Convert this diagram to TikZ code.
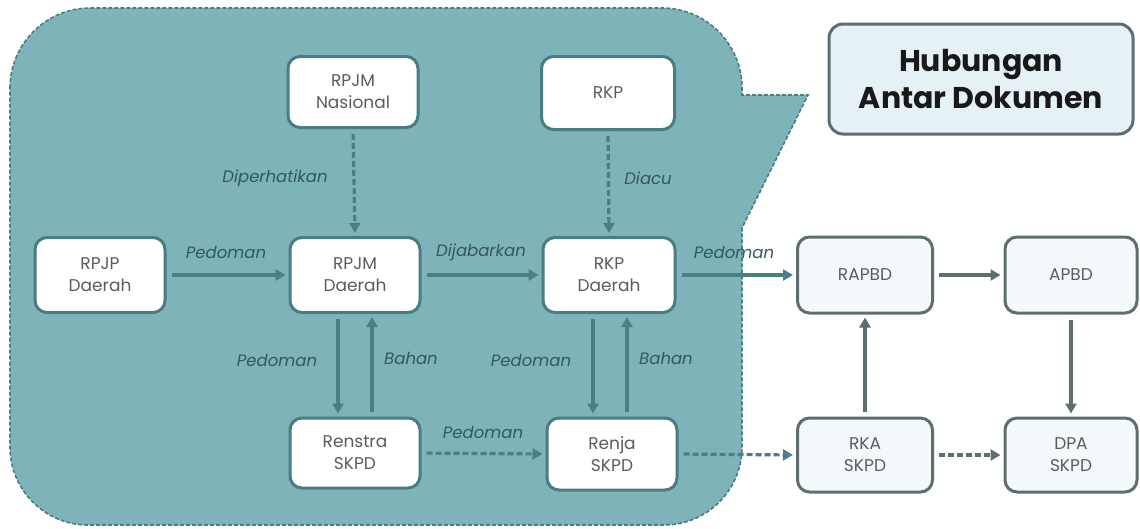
\documentclass[tikz,border=0pt]{standalone}
\usepackage{fontspec}
\setmainfont{Poppins}
\newfontfamily\titlefont{Poppins}
\usetikzlibrary{arrows.meta}
\definecolor{tealfill}{HTML}{7EB3BA}
\definecolor{tealdash}{HTML}{4C7C83}
\definecolor{tealbord}{HTML}{4A7C84}
\definecolor{graybord}{HTML}{5E6D70}
\definecolor{lblcol}{HTML}{33585E}
\definecolor{txtcol}{HTML}{5C5C5C}
\definecolor{outfill}{HTML}{F4FAFC}
\definecolor{titlefill}{HTML}{E6F1F5}
\definecolor{arrin}{HTML}{4B7E86}
\definecolor{arrout}{HTML}{5F6F71}
\tikzset{
  inbox/.style={draw=tealbord, fill=white, line width=3pt, rounded corners=12pt, align=center,
     font=\fontsize{17}{22}\selectfont, text=txtcol, inner sep=0pt},
  outbox/.style={draw=graybord, fill=outfill, line width=3pt, rounded corners=12pt, align=center,
     font=\fontsize{17}{22}\selectfont, text=txtcol, inner sep=0pt},
  lbl/.style={font=\fontsize{16.5}{18}\selectfont\itshape, text=lblcol, inner sep=0pt},
  arr/.style={draw=arrin, line width=3.2pt, -{Triangle[length=10pt,width=11pt]}, shorten >=3pt, shorten <=5pt},
  arrg/.style={arr, draw=arrout},
  dsh/.style={dash pattern=on 6pt off 3pt},
}
\begin{document}
\begin{tikzpicture}[x=1pt,y=-1pt]
\useasboundingbox (0,0) rectangle (1140,528);
% teal background callout
\path[fill=tealfill, draw=tealdash, line width=1.6pt, dash pattern=on 4pt off 2pt]
  (10,88) .. controls (10,44) and (46,8) .. (90,8)
  -- (662,8) .. controls (706,8) and (742,44) .. (742,88)
  -- (742,95) -- (808,95) -- (742,228) -- (742,447)
  .. controls (742,490) and (707,525) .. (664,525)
  -- (88,525) .. controls (45,525) and (10,490) .. (10,447) -- cycle;
% title
\node[draw=graybord, fill=titlefill, line width=3pt, rounded corners=14pt, minimum width=304pt, minimum height=110pt,
  align=center, font=\titlefont\bfseries\fontsize{30}{37}\selectfont, text=black!90] (title) at (981,79) {Hubungan\\Antar Dokumen};
% inner nodes
\node[inbox, minimum width=130pt, minimum height=71pt] (rpjmn) at (353,92) {RPJM\\Nasional};
\node[inbox, minimum width=133pt, minimum height=73pt] (rkp) at (608,93) {RKP};
\node[inbox, minimum width=130pt, minimum height=75pt] (rpjp) at (100,275) {RPJP\\Daerah};
\node[inbox, minimum width=130pt, minimum height=75pt] (rpjmd) at (355,275) {RPJM\\Daerah};
\node[inbox, minimum width=132pt, minimum height=75pt] (rkpd) at (609,275) {RKP\\Daerah};
\node[inbox, minimum width=130pt, minimum height=70pt] (renstra) at (355,453) {Renstra\\SKPD};
\node[inbox, minimum width=130pt, minimum height=72pt] (renja) at (612,454) {Renja\\SKPD};
% outer nodes
\node[outbox, minimum width=135pt, minimum height=76pt] (rapbd) at (865,275) {RAPBD};
\node[outbox, minimum width=132pt, minimum height=76pt] (apbd) at (1071,275) {APBD};
\node[outbox, minimum width=135pt, minimum height=74pt] (rka) at (865,455) {RKA\\SKPD};
\node[outbox, minimum width=132pt, minimum height=74pt] (dpa) at (1071,455) {DPA\\SKPD};
% arrows
\draw[arr, dsh] (rpjmn.south) -- (rpjmd.north);
\draw[arr, dsh] (rkp.south) -- (rkpd.north);
\draw[arr] (rpjp.east) -- (rpjmd.west);
\draw[arr] (rpjmd.east) -- (rkpd.west);
\draw[arr] (rkpd.east) -- (rapbd.west);
\draw[arr] ([xshift=-17pt]rpjmd.south) -- ([xshift=-17pt]renstra.north);
\draw[arr] ([xshift=17pt]renstra.north) -- ([xshift=17pt]rpjmd.north |- rpjmd.south);
\draw[arr] ([xshift=-16pt]rkpd.south) -- ([xshift=-16pt]rkpd.south |- renja.north);
\draw[arr] ([xshift=18pt]rkpd.south |- renja.north) -- ([xshift=18pt]rkpd.south);
\draw[arr, dsh] (renstra.east) -- (renja.west);
\draw[arr, dsh] (renja.east) -- (rka.west);
\draw[arrg] (rka.north) -- (rapbd.south);
\draw[arrg] (rapbd.east) -- (apbd.west);
\draw[arrg] (apbd.south) -- (dpa.north);
\draw[arrg, dsh] (rka.east) -- (dpa.west);
% labels
\node[lbl] (l1) at (275,178) {Diperhatikan};
\node[lbl] (l2) at (648,178) {Diacu};
\node[lbl] (l3) at (226,252) {Pedoman};
\node[lbl] (l4) at (481,252) {Dijabarkan};
\node[lbl] (l5) at (734,252) {Pedoman};
\node[lbl] (l6) at (277,360) {Pedoman};
\node[lbl] (l7) at (411,358) {Bahan};
\node[lbl] (l8) at (531,360) {Pedoman};
\node[lbl] (l9) at (666,358) {Bahan};
\node[lbl] (l10) at (483,432) {Pedoman};
\end{tikzpicture}
\end{document}
